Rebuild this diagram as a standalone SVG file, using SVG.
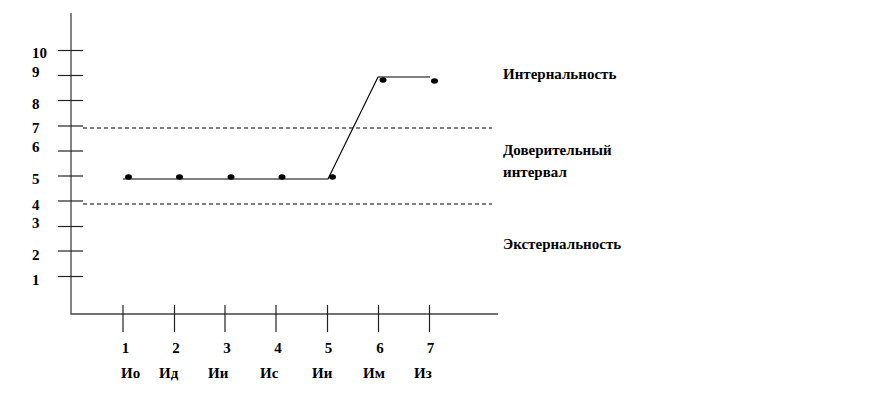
<svg xmlns="http://www.w3.org/2000/svg" width="872" height="408" viewBox="0 0 872 408">
<style>
text{font-family:"Liberation Serif","DejaVu Serif",serif;font-weight:bold;font-size:15px;fill:#000}
.ax{stroke:#444;stroke-width:1.3;fill:none}
.tk{stroke:#222;stroke-width:1.2}
.dash{stroke:#000;stroke-width:1;stroke-dasharray:4,3}
.ln{stroke:#000;stroke-width:1.2;fill:none}
.dot{fill:#000}
</style>
<rect width="872" height="408" fill="#fff"/>
<g id="axes">
<polyline class="ax" points="71,13 71,314 498,314"/>
<g id="yticks">
<line class="tk" x1="58" y1="50.5" x2="83" y2="50.5"/>
<line class="tk" x1="58" y1="75.5" x2="83" y2="75.5"/>
<line class="tk" x1="58" y1="100.5" x2="83" y2="100.5"/>
<line class="tk" x1="58" y1="126" x2="83" y2="126"/>
<line class="tk" x1="58" y1="151" x2="83" y2="151"/>
<line class="tk" x1="58" y1="176" x2="83" y2="176"/>
<line class="tk" x1="58" y1="201" x2="83" y2="201"/>
<line class="tk" x1="58" y1="226.5" x2="83" y2="226.5"/>
<line class="tk" x1="58" y1="251" x2="83" y2="251"/>
<line class="tk" x1="58" y1="276.5" x2="83" y2="276.5"/>
</g>
<g id="ylabels">
<text x="32" y="58">10</text>
<text x="32" y="77">9</text>
<text x="32" y="108.5">8</text>
<text x="32" y="132.5">7</text>
<text x="32" y="152">6</text>
<text x="32" y="183.5">5</text>
<text x="32" y="209.5">4</text>
<text x="32" y="228">3</text>
<text x="32" y="259.5">2</text>
<text x="32" y="284.5">1</text>
</g>
<g id="xticks">
<line class="tk" x1="123" y1="305" x2="123" y2="332"/>
<line class="tk" x1="174.5" y1="305" x2="174.5" y2="332"/>
<line class="tk" x1="225" y1="305" x2="225" y2="332"/>
<line class="tk" x1="276" y1="305" x2="276" y2="332"/>
<line class="tk" x1="327.5" y1="305" x2="327.5" y2="332"/>
<line class="tk" x1="378.5" y1="305" x2="378.5" y2="332"/>
<line class="tk" x1="429.5" y1="305" x2="429.5" y2="332"/>
</g>
<g id="xlabels" text-anchor="middle">
<text x="125.5" y="353">1</text>
<text x="176" y="353">2</text>
<text x="227" y="353">3</text>
<text x="278" y="353">4</text>
<text x="328.5" y="353">5</text>
<text x="380" y="353">6</text>
<text x="430.5" y="353">7</text>
</g>
<g id="xnames">
<text x="121" y="378">Ио</text>
<text x="159" y="378">Ид</text>
<text x="208" y="378">Ии</text>
<text x="260" y="378">Ис</text>
<text x="312" y="378">Ии</text>
<text x="363" y="378">Им</text>
<text x="414" y="378">Из</text>
</g>
</g>
<g id="connectors">
<line class="dash" x1="83" y1="128" x2="492" y2="128"/>
<line class="dash" x1="83" y1="204" x2="492" y2="204"/>
<polyline class="ln" points="123,179 328,179 378,77 430,77"/>
</g>
<g id="points">
<ellipse class="dot" cx="128.5" cy="177" rx="3.5" ry="2.8"/>
<ellipse class="dot" cx="179.5" cy="177" rx="3.5" ry="2.8"/>
<ellipse class="dot" cx="231" cy="177" rx="3.5" ry="2.8"/>
<ellipse class="dot" cx="282" cy="177" rx="3.5" ry="2.8"/>
<ellipse class="dot" cx="332.5" cy="177" rx="3.5" ry="2.8"/>
<ellipse class="dot" cx="383" cy="80" rx="3.5" ry="2.8"/>
<ellipse class="dot" cx="434.5" cy="81" rx="3.5" ry="2.8"/>
</g>
<g id="zones">
<text x="503" y="79">Интернальность</text>
<text x="503" y="155">Доверительный</text>
<text x="503" y="177">интервал</text>
<text x="503" y="249">Экстернальность</text>
</g>
</svg>
